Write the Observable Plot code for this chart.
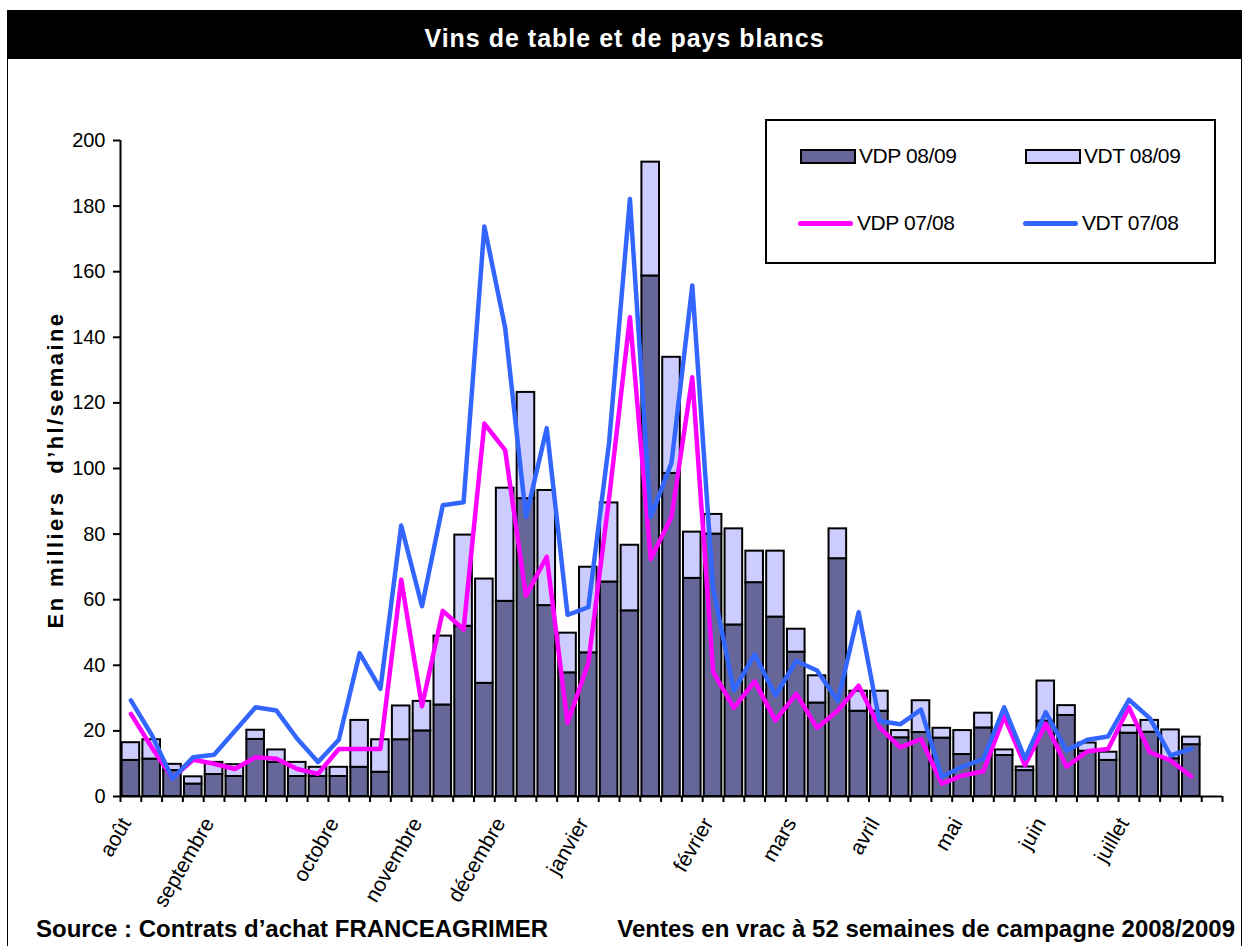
<!DOCTYPE html>
<html>
<head>
<meta charset="utf-8">
<script src="https://cdn.jsdelivr.net/npm/d3@7"></script>
<script src="https://cdn.jsdelivr.net/npm/@observablehq/plot@0.6"></script>
<style>
  html, body { margin: 0; padding: 0; background: #fff; }
  body { font-family: "Liberation Sans", Arial, sans-serif; }
  #page { position: relative; width: 1250px; height: 946px; overflow: hidden; background: #fff; }
  #frame { position: absolute; left: 7px; top: 10px; width: 1235px; height: 960px; border: 1px solid #000; box-sizing: border-box; }
  #title { position: absolute; left: 7px; top: 10px; width: 1235px; height: 49px; background: #000; color: #fff;
           font-weight: bold; font-size: 25px; letter-spacing: 1px; text-align: center; line-height: 56px; }
  #chart { position: absolute; left: 0; top: 0; }
  #legend { position: absolute; left: 765px; top: 119px; width: 451px; height: 145px; border: 2px solid #000; background: #fff; box-sizing: border-box; }
  .sw { position: absolute; width: 52px; height: 11px; border: 2px solid #000; }
  .ln { position: absolute; width: 55px; height: 5px; border-radius: 3px; }
  .lt { position: absolute; font-size: 21px; line-height: 22px; color: #000; white-space: nowrap; letter-spacing: -0.4px; }
  #ytitle { position: absolute; left: -144px; top: 457px; width: 400px; height: 26px; line-height: 26px; text-align: center;
            transform: rotate(-90deg); font-weight: bold; font-size: 22px; letter-spacing: 2.4px; white-space: nowrap; }
  .foot { position: absolute; font-weight: bold; font-size: 24px; white-space: nowrap; line-height: 24px; }
</style>
</head>
<body>
<div id="page">
  <div id="frame"></div>
  <div id="title">Vins de table et de pays blancs</div>
  <div id="chart"></div>
  <div id="legend"></div>
  <div id="ytitle">En milliers&nbsp;&nbsp;d’hl/semaine</div>
  <div class="foot" id="foot1" style="left:36px; top:917px;">Source : Contrats d’achat FRANCEAGRIMER</div>
  <div class="foot" id="foot2" style="right:15px; top:917px;">Ventes en vrac à 52 semaines de campagne 2008/2009</div>
</div>
<script>
// ---- data (thousand hl / week), 52 weeks of the 2008/2009 campaign ----
const weeks = d3.range(52);
// VDP 08/09 (dark bars, bottom of stack)
const vdp0809 = [11.0, 11.4, 7.9, 3.8, 6.7, 6.1, 17.4, 10.4, 6.1, 6.1, 6.1, 8.9, 7.4, 17.3, 20.0, 27.9, 51.9, 34.5, 59.5, 90.8,
                 58.2, 37.7, 43.8, 65.4, 56.6, 158.7, 98.5, 66.5, 80.0, 52.3, 65.2, 54.7, 44.0, 28.5, 72.5, 26.0, 26.0, 17.9, 19.5, 17.8,
                 12.8, 20.9, 12.5, 7.9, 23.0, 24.7, 13.8, 11.0, 19.3, 19.6, 11.5, 15.8];
// VDT 08/09 (light bars, stacked on top)
const vdt0809 = [5.4, 5.9, 1.9, 2.2, 3.7, 3.6, 2.8, 3.8, 4.3, 2.8, 2.8, 14.3, 9.9, 10.3, 9.0, 21.0, 27.8, 31.8, 34.5, 32.4,
                 35.1, 12.1, 26.1, 24.1, 20.0, 34.7, 35.4, 14.1, 6.0, 29.3, 9.6, 20.1, 7.0, 8.3, 9.1, 6.1, 6.1, 2.2, 9.7, 3.0,
                 7.3, 4.5, 1.7, 1.1, 12.2, 3.0, 2.5, 2.5, 2.3, 3.6, 8.8, 2.3];
// VDP 07/08 (magenta line)
const vdp0708 = [25.2, 15.0, 5.6, 11.2, 10.0, 8.4, 12.0, 11.5, 8.4, 6.9, 14.5, 14.5, 14.5, 66.1, 27.5, 56.6, 50.9, 113.7, 105.6, 61.2,
                 73.1, 22.5, 40.6, 91.0, 146.1, 72.4, 85.2, 127.8, 38.0, 27.0, 35.1, 23.2, 31.3, 20.9, 26.2, 33.8, 21.1, 15.0, 17.5, 3.9,
                 6.4, 7.7, 24.4, 9.5, 22.2, 9.1, 13.8, 14.5, 27.2, 13.5, 11.0, 6.1];
// VDT 07/08 (blue line)
const vdt0708 = [29.3, 18.8, 5.4, 12.0, 12.7, 20.0, 27.2, 26.2, 17.6, 10.5, 17.3, 43.7, 32.8, 82.6, 58.0, 88.8, 89.7, 173.8, 142.9, 85.2,
                 112.3, 55.4, 57.7, 108.0, 182.2, 85.2, 101.7, 155.8, 63.5, 32.3, 43.3, 30.8, 41.3, 38.4, 29.1, 56.2, 23.0, 22.0, 26.5, 6.0,
                 9.1, 11.5, 27.2, 11.5, 25.7, 14.0, 17.3, 18.3, 29.5, 23.9, 12.5, 14.5];
// month labels and the week (category) they are attached to
const monthLabels = ["août", "septembre", "octobre", "novembre", "décembre", "janvier", "février", "mars", "avril", "mai", "juin", "juillet"];
const monthWeeks  = [0, 4, 10, 14, 18, 22, 28, 32, 36, 40, 44, 48];
const yTicks = [0, 20, 40, 60, 80, 100, 120, 140, 160, 180, 200];
const seriesNames = ["VDP 08/09", "VDT 08/09", "VDP 07/08", "VDT 07/08"];
const colors = {"VDP 08/09": "#666699", "VDT 08/09": "#ccccff", "VDP 07/08": "#ff00ff", "VDT 07/08": "#3366ff"};

const nSlots = 53;
const bars = weeks.map(i => ({i, vdp: vdp0809[i], vdt: vdt0809[i]}));
const lineP = weeks.map(i => ({i, v: vdp0708[i]}));
const lineT = weeks.map(i => ({i, v: vdt0708[i]}));
const months = monthLabels.map((m, k) => ({m, w: monthWeeks[k]}));

const font = "'Liberation Sans', Arial, sans-serif";

const chart = Plot.plot({
  width: 1250,
  height: 946,
  marginLeft: 120,
  marginRight: 28,
  marginTop: 140,
  marginBottom: 150,
  style: {fontFamily: font, background: "transparent", overflow: "visible", color: "#000"},
  x: {type: "linear", domain: [0, nSlots], axis: null},
  y: {type: "linear", domain: [0, 200], axis: null},
  marks: [
    Plot.rectY(bars, {x1: d => d.i, x2: d => d.i + 1, y1: 0, y2: d => d.vdp, fill: colors["VDP 08/09"],
      stroke: "#000", strokeWidth: 2, insetLeft: 1.6, insetRight: 1.6}),
    Plot.rectY(bars, {x1: d => d.i, x2: d => d.i + 1, y1: d => d.vdp, y2: d => d.vdp + d.vdt, fill: colors["VDT 08/09"],
      stroke: "#000", strokeWidth: 2, insetLeft: 1.6, insetRight: 1.6}),
    Plot.line(lineP, {x: d => d.i + 0.5, y: "v", stroke: colors["VDP 07/08"], strokeWidth: 4.5, strokeLinejoin: "round", strokeLinecap: "round"}),
    Plot.line(lineT, {x: d => d.i + 0.5, y: "v", stroke: colors["VDT 07/08"], strokeWidth: 4.5, strokeLinejoin: "round", strokeLinecap: "round"}),
    Plot.ruleY([0], {x1: 0, x2: nSlots, stroke: "#000", strokeWidth: 2}),
    Plot.ruleX([0], {y1: 0, y2: 200, stroke: "#000", strokeWidth: 2}),
    Plot.axisY({ticks: yTicks, tickSize: 7, tickPadding: 8, fontSize: 20, label: null, strokeWidth: 2, tickFormat: d => String(d)}),
    Plot.axisX({ticks: d3.range(0, nSlots + 1), tickSize: 6, tickFormat: () => "", label: null, strokeWidth: 2}),
    Plot.text(months, {x: d => d.w + 0.5, y: 0, text: "m", rotate: -60, textAnchor: "end", lineAnchor: "middle",
      dy: 23, dx: -5, fontSize: 21, fill: "#000"})
  ]
});
document.getElementById("chart").appendChild(chart);

// legend
const legend = document.getElementById("legend");
const items = [
  {name: seriesNames[0], kind: "sw", x: 33, y: 28},
  {name: seriesNames[1], kind: "sw", x: 258, y: 28},
  {name: seriesNames[2], kind: "ln", x: 31, y: 100},
  {name: seriesNames[3], kind: "ln", x: 256, y: 100}
];
for (const it of items) {
  const s = document.createElement("div");
  s.className = it.kind;
  s.style.left = it.x + "px";
  s.style.top = it.y + "px";
  s.style.background = colors[it.name];
  legend.appendChild(s);
  const t = document.createElement("div");
  t.className = "lt";
  t.textContent = it.name;
  t.style.left = (it.x + 59) + "px";
  t.style.top = (it.kind === "sw" ? it.y - 4 : it.y - 9) + "px";
  legend.appendChild(t);
}
</script>
</body>
</html>
